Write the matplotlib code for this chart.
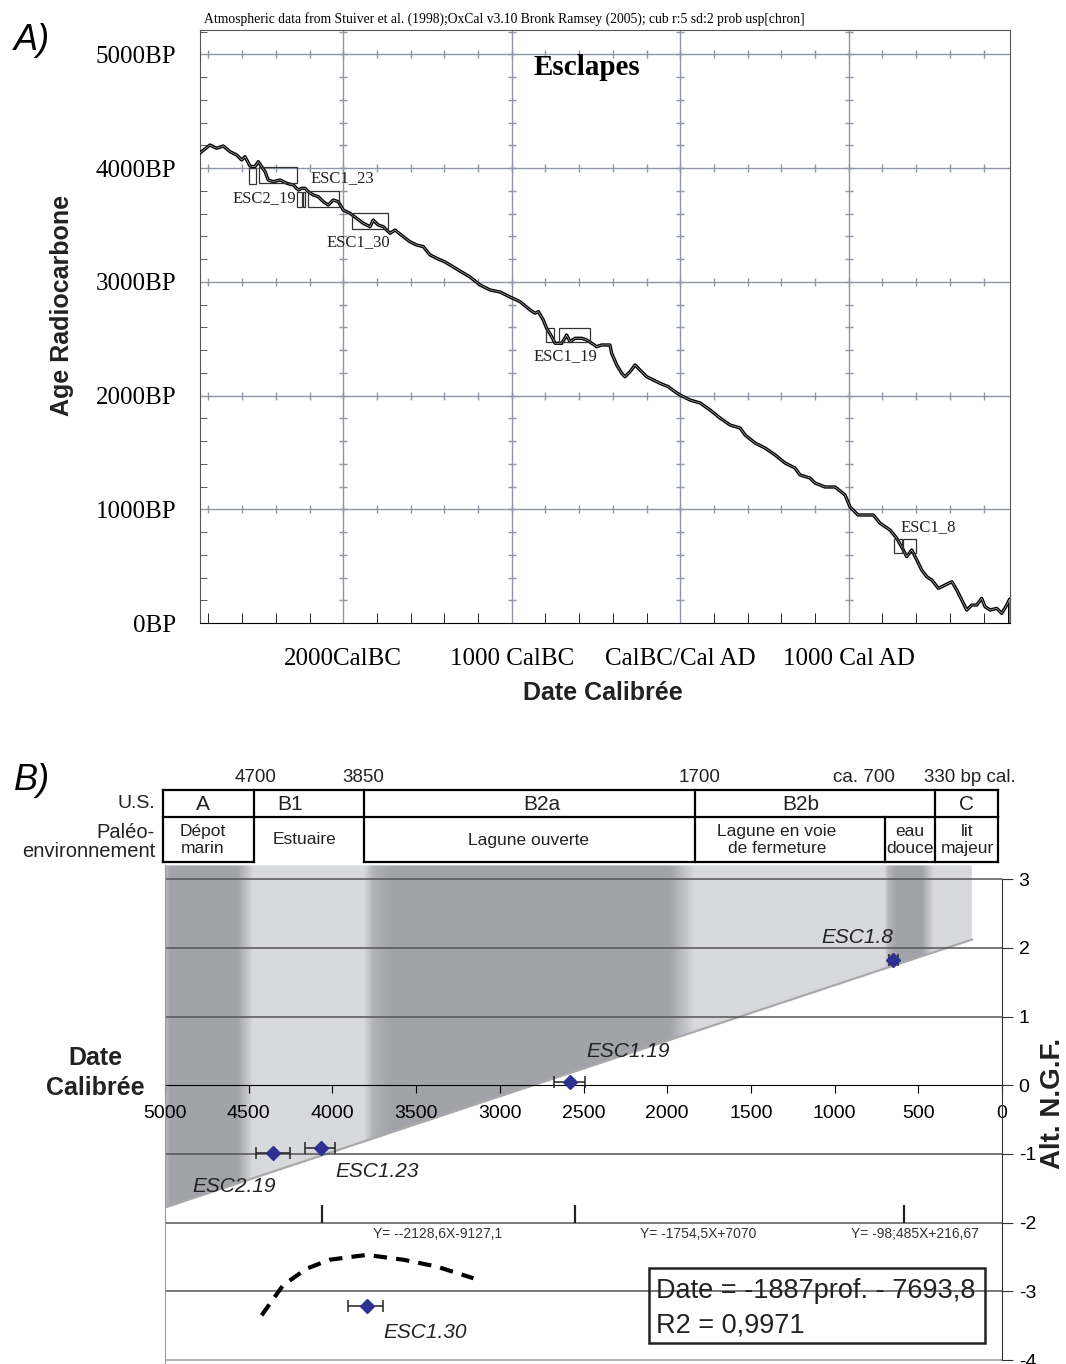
import numpy as np
import matplotlib.pyplot as plt
from matplotlib.patches import Rectangle, Polygon
from matplotlib.ticker import MultipleLocator

# ---------------- A) calibration curve (cal. year: BC < 0, AD > 0 ; age BP)
cal_year = [-2850, -2791, -2751, -2712, -2672, -2632, -2603, -2583, -2553, -2524,
            -2504, -2484, -2464, -2445, -2415, -2375, -2335, -2296, -2267, -2246,
            -2227, -2207, -2178, -2148, -2118, -2089, -2059, -2029, -2000, -1960,
            -1920, -1881, -1841, -1822, -1792, -1762, -1722, -1693, -1643, -1604,
            -1564, -1525, -1485, -1445, -1396, -1337, -1248, -1188, -1129, -1070,
            -1010, -951, -891, -862, -842, -813, -793, -763, -743, -703,
            -674, -654, -624, -585, -555, -525, -496, -466, -417, -407,
            -377, -347, -328, -298, -268, -239, -199, -160, -120, -71,
            -31, -1, 58, 118, 177, 236, 296, 355, 385, 444,
            503, 563, 622, 681, 711, 770, 800, 859, 919, 978,
            1008, 1055, 1107, 1146, 1186, 1245, 1285, 1324, 1344, 1374,
            1404, 1433, 1463, 1493, 1532, 1572, 1612, 1641, 1671, 1700,
            1730, 1760, 1789, 1809, 1839, 1878, 1908, 1938, 1955, 1955]
bp_age = [4134, 4204, 4175, 4195, 4145, 4116, 4072, 4101, 4018, 4013,
          4057, 4013, 3969, 3896, 3881, 3896, 3867, 3852, 3808, 3823,
          3823, 3793, 3764, 3749, 3705, 3676, 3720, 3705, 3632, 3603,
          3559, 3515, 3485, 3543, 3500, 3485, 3427, 3456, 3397, 3353,
          3324, 3310, 3237, 3207, 3175, 3122, 3043, 2973, 2929, 2911,
          2867, 2826, 2753, 2724, 2738, 2665, 2592, 2518, 2460, 2460,
          2533, 2474, 2504, 2504, 2489, 2460, 2430, 2445, 2445, 2372,
          2269, 2196, 2166, 2210, 2269, 2225, 2166, 2137, 2108, 2078,
          2034, 2005, 1961, 1935, 1873, 1803, 1741, 1715, 1653, 1583,
          1539, 1478, 1407, 1363, 1302, 1275, 1231, 1196, 1196, 1126,
          1020, 950, 950, 950, 877, 818, 745, 642, 583, 642,
          554, 466, 407, 378, 305, 334, 363, 290, 202, 114,
          158, 158, 217, 143, 114, 129, 85, 158, 210, 0]

# calibrated ranges (years) and 14C age bands (BP) of the dated samples
box_start = [-2557, -2498, -2276, -2237, -2207, -1946, -797, -718, 1271, 1320]
box_end = [-2518, -2276, -2245, -2226, -2026, -1737, -747, -535, 1314, 1402]
box_bp_low = [3861, 3867, 3661, 3661, 3661, 3463, 2469, 2469, 613, 613]
box_bp_high = [3999, 4008, 3793, 3793, 3799, 3603, 2592, 2592, 736, 736]
labels_a = ['ESC1_23', 'ESC2_19', 'ESC1_30', 'ESC1_19', 'ESC1_8']
x_ticks_a = [-2000, -1000, 0, 1000]
x_labels_a = ['2000CalBC', '1000 CalBC', 'CalBC/Cal AD', '1000 Cal AD']
y_ticks_a = [0, 1000, 2000, 3000, 4000, 5000]
y_labels_a = ['0BP', '1000BP', '2000BP', '3000BP', '4000BP', '5000BP']

# ---------------- B) age / altitude
samples_b = ['ESC1.8', 'ESC1.19', 'ESC1.23', 'ESC2.19', 'ESC1.30']
date_b = [649, 2579, 4070, 4353, 3795]
date_young = [622, 2491, 3985, 4253, 3698]
date_old = [678, 2677, 4163, 4457, 3907]
alt_b = [1.82, 0.05, -0.91, -0.985, -3.21]

trend_date = [4423, 4294, 4154, 4015, 3795, 3577, 3377, 3158]
trend_alt = [-3.35, -2.91, -2.67, -2.54, -2.47, -2.54, -2.64, -2.81]

diag_date = [5000, 180]
diag_alt = [-1.78, 2.12]
segment_marks = [4062, 2551, 585]
equations = ['Y= --2128,6X-9127,1', 'Y= -1754,5X+7070', 'Y= -98;485X+216,67']

# phase boundaries of the shaded bands (date, darkness 0..1)
band_date = [180, 403, 478, 627, 680, 699, 1834, 1983, 3656, 3760, 3811, 4475, 4570, 4970, 5000]
band_dark = [0, 0, 1, 1, 0.6, 0, 0, 1, 1, 0.7, 0, 0, 1, 1, 0.6]

us_units = ['A', 'B1', 'B2a', 'B2b', 'C']
us_limits = ['4700', '3850', '1700', 'ca. 700', '330 bp cal.']
paleo_env = ['Dépot\nmarin', 'Estuaire', 'Lagune ouverte', 'Lagune en voie\nde fermeture',
             'eau\ndouce', 'lit\nmajeur']

serif = 'Liberation Serif'
sans = 'Liberation Sans'

fig = plt.figure(figsize=(10.66, 13.64), dpi=100)

# ======================= panel A
W, H = 1066, 1364
axA = fig.add_axes([200 / W, 1 - 623 / H, 810 / W, 593 / H])
axA.set_xlim(-2850, 1957)
axA.set_ylim(0, 5215)
gc = '#8e97a3'
for v in x_ticks_a:
    axA.axvline(v, color=gc, lw=1, zorder=1)
for h in y_ticks_a[1:]:
    axA.axhline(h, color=gc, lw=1, zorder=1)
xm = np.arange(-2800, 1957, 200)
ym = np.arange(200, 5215, 200)
for h in y_ticks_a[1:]:
    axA.plot(xm, [h] * len(xm), ls='none', marker='|', ms=6, mew=1, color=gc, zorder=1)
for v in x_ticks_a:
    axA.plot([v] * len(ym), ym, ls='none', marker='_', ms=6, mew=1, color=gc, zorder=1)

axA.plot(cal_year, bp_age, color='black', lw=2.4, zorder=3)
axA.plot(cal_year, bp_age, color='white', lw=0.5, alpha=0.7, zorder=4)
for x0, x1, b0, b1 in zip(box_start, box_end, box_bp_low, box_bp_high):
    axA.add_patch(Rectangle((x0, b0), x1 - x0, b1 - b0, fill=False,
                            edgecolor='#333333', lw=0.9, zorder=5))
lab_pos = [(-2007, 3914), (-2470, 3738), (-1912, 3351), (-684, 2348), (1471, 844)]
for s, (x, y) in zip(labels_a, lab_pos):
    axA.text(x, y, s, ha='center', va='center', fontsize=12, family=serif,
             color='#222222', zorder=6)
axA.text(-553, 4881, 'Esclapes', ha='center', va='center', fontsize=21,
         fontweight='bold', family=serif)

axA.set_xticks(x_ticks_a)
axA.set_xticklabels(x_labels_a, family=serif, fontsize=18)
axA.set_yticks(y_ticks_a)
axA.set_yticklabels(y_labels_a, family=serif, fontsize=18)
axA.xaxis.set_minor_locator(MultipleLocator(200))
axA.yaxis.set_minor_locator(MultipleLocator(200))
axA.tick_params(axis='x', which='major', length=0, pad=18)
axA.tick_params(axis='y', which='major', length=0, pad=17)
axA.tick_params(axis='x', which='minor', direction='in', length=7, color='black')
axA.tick_params(axis='y', which='minor', direction='in', length=5, color='#444444')
for side in ['top', 'right', 'left']:
    axA.spines[side].set_color('#555555')
axA.spines['bottom'].set_color('black')

# ======================= panel B
ylo = -4 - 4 / 68.7
axB = fig.add_axes([165 / W, 0, 837 / W, (1364 - 865.4) / H])
axB.set_xlim(5000, 0)
axB.set_ylim(ylo, 3.2)

xs = np.linspace(5000, 180, 900)
w = np.interp(xs, band_date, band_dark)
light = np.array([0.850, 0.853, 0.865])
dark = np.array([0.635, 0.640, 0.660])
img = (light[None, :] * (1 - w[:, None]) + dark[None, :] * w[:, None])[None, :, :]
im = axB.imshow(img, extent=[5000, 180, ylo, 3.2], aspect='auto',
                interpolation='bilinear', zorder=0.5)
clip = Polygon([(5000, 3.2), (180, 3.2), (diag_date[1], diag_alt[1]),
                (diag_date[0], diag_alt[0])], closed=True, transform=axB.transData,
               facecolor='none', edgecolor='none')
axB.add_patch(clip)
im.set_clip_path(clip)
axB.plot(diag_date, diag_alt, color='#a9a9a9', lw=1.6, zorder=1)

for h in range(-4, 4):
    if h != 0:
        axB.axhline(h, color='#555555' if h > -4 else '#999999', lw=1.1, zorder=1.5)
axB.vlines(segment_marks, -2, -1.75, color='#222222', lw=1.6, zorder=2)

axB.plot(trend_date, trend_alt, color='black', lw=3, ls=(0, (3.2, 2.2)), zorder=3)

xerr = [np.array(date_b) - np.array(date_young), np.array(date_old) - np.array(date_b)]
axB.errorbar(date_b, alt_b, xerr=xerr, fmt='D', color='#2e3192', ms=7,
             ecolor='#222222', elinewidth=1.1, capsize=4.5, capthick=1.1, zorder=4)
lab_pos_b = [(866, 2.15), (2234, 0.49), (3734, -1.25), (4588, -1.47), (3447, -3.6)]
for s, (x, y) in zip(samples_b, lab_pos_b):
    axB.text(x, y, s, ha='center', va='center', fontsize=15, style='italic',
             family=sans, color='#222222', zorder=5)

axB.spines['top'].set_visible(False)
axB.spines['bottom'].set_position(('data', 0))
axB.spines['bottom'].set_color('black')
axB.spines['bottom'].set_zorder(2)
axB.spines['left'].set_color('#999999')
axB.spines['right'].set_bounds(-4, 3)
axB.spines['right'].set_color('#333333')
axB.set_xticks(np.arange(5000, -1, -500))
axB.set_xticklabels([str(v) for v in range(5000, -1, -500)], family=sans, fontsize=14)
axB.tick_params(axis='x', direction='out', length=6, pad=8, color='black')
axB.yaxis.tick_right()
axB.set_yticks(range(-4, 4))
axB.set_yticklabels([str(v) for v in range(-4, 4)], family=sans, fontsize=14)
axB.tick_params(axis='y', direction='out', length=8, pad=4, color='#333333')

# ======================= overlay (text, table) in pixel units
ov = fig.add_axes([0, 0, 1, 1], zorder=10)
ov.set_xlim(0, W)
ov.set_ylim(H, 0)
ov.axis('off')

ov.text(32, 40, 'A)', fontsize=26, style='italic', family=sans, ha='center', va='center')
ov.text(32, 780, 'B)', fontsize=26, style='italic', family=sans, ha='center', va='center')
ov.text(204, 19, 'Atmospheric data from Stuiver et al. (1998);OxCal v3.10 Bronk Ramsey (2005); '
        'cub r:5 sd:2 prob usp[chron]', fontsize=9.8, family=serif, ha='left', va='center')
ov.text(62, 305, 'Age Radiocarbone', fontsize=18, fontweight='bold', family=sans,
        rotation=90, ha='center', va='center', color='#222222')
ov.text(603, 693, 'Date Calibrée', fontsize=18, fontweight='bold', family=sans,
        ha='center', va='center', color='#222222')
ov.text(95, 1073, 'Date\nCalibrée', fontsize=18, fontweight='bold', family=sans,
        ha='center', va='center', linespacing=1.35, color='#222222')
ov.text(1053, 1103, 'Alt. N.G.F.', fontsize=20, fontweight='bold', family=sans,
        rotation=90, ha='center', va='center', color='#222222')

# table
row1 = [163, 254, 364, 695, 935, 998]
row2 = [163, 254, 364, 695, 885, 935, 998]
tk = dict(color='black', lw=1.6, solid_capstyle='projecting')
ov.plot([163, 998], [790, 790], **tk)
ov.plot([163, 998], [817, 817], **tk)
ov.plot([163, 254], [862, 862], **tk)
ov.plot([364, 998], [862, 862], **tk)
for x in row1:
    ov.plot([x, x], [790, 817], **tk)
for x in row2:
    ov.plot([x, x], [817, 862], **tk)
for s, x in zip(us_limits, [256, 363, 700, 864, 970]):
    ov.text(x, 778, s, fontsize=13.5, family=sans, ha='center', va='center', color='#222222')
for s, x in zip(us_units, [203, 290, 542, 801, 966]):
    ov.text(x, 804, s, fontsize=15, family=sans, ha='center', va='center', color='#222222')
for s, x in zip(paleo_env, [203, 305, 529, 777, 910, 967]):
    ov.text(x, 840, s, fontsize=12.5, family=sans, ha='center',
            va='center', linespacing=1.15, color='#222222')
ov.text(155, 803, 'U.S.', fontsize=14, family=sans, ha='right', va='center', color='#222222')
ov.text(155, 842, 'Paléo-\nenvironnement', fontsize=14.5, family=sans, ha='right',
        va='center', multialignment='right', linespacing=1.05, color='#222222')

# equations and regression box
for s, x in zip(equations, [373, 640, 851]):
    ov.text(x, 1234, s, fontsize=10, family=sans, ha='left', va='center', color='#333333')
ov.add_patch(Rectangle((649, 1268), 336, 75, fill=False, edgecolor='#222222', lw=1.8))
ov.text(656, 1291, 'Date = -1887prof. - 7693,8', fontsize=19.5, family=sans,
        ha='left', va='center', color='#222222')
ov.text(656, 1326, 'R2 = 0,9971', fontsize=19.5, family=sans, ha='left', va='center',
        color='#222222')

fig.savefig('out.png', dpi=100)
